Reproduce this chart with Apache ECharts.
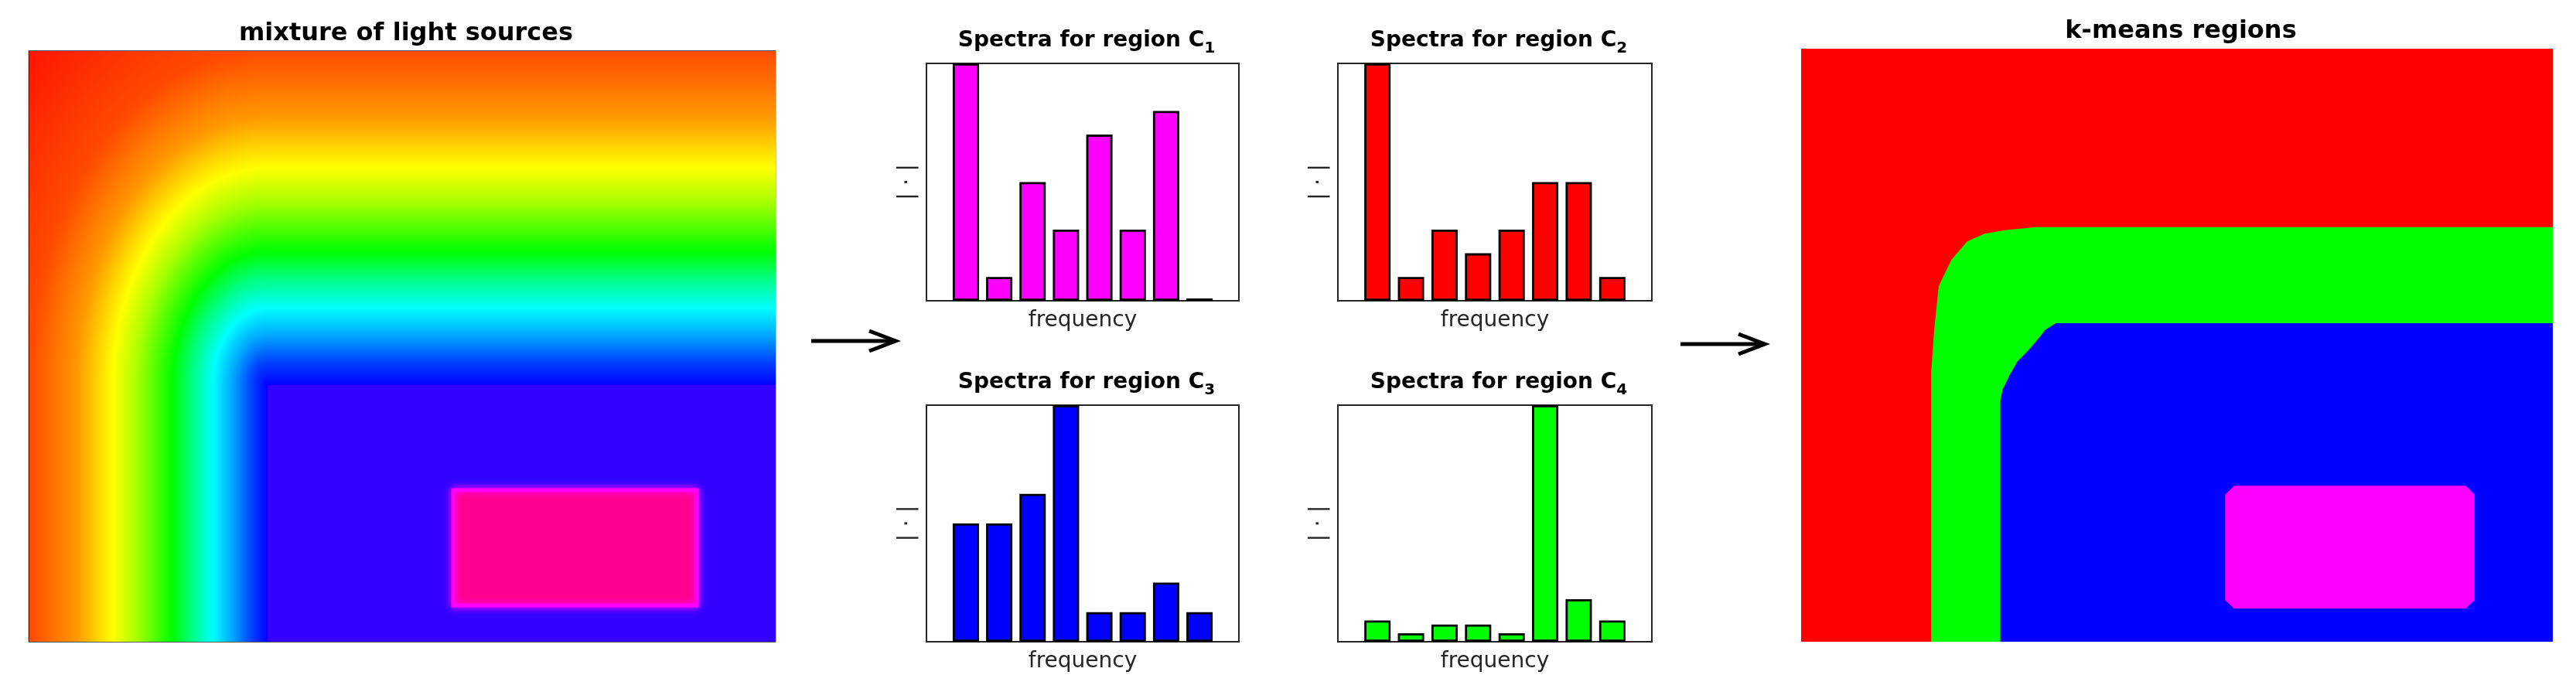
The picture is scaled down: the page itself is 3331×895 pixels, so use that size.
<!DOCTYPE html>
<html>
<head>
<meta charset="utf-8">
<title>k-means regions</title>
<script src="https://cdn.jsdelivr.net/npm/echarts@6/dist/echarts.min.js"></script>
<style>
  html, body { margin: 0; padding: 0; background: #fff; }
  #chart { width: 3331px; height: 895px; }
</style>
</head>
<body>
<div id="chart"></div>
<script>
// 频谱:8 个频段,各区域按最大值归一化
var bins = [0, 1, 2, 3, 4, 5, 6, 7];
var spectraC1 = [1.0, 0.1, 0.5, 0.3, 0.7, 0.3, 0.8, 0.01];
var spectraC2 = [1.0, 0.1, 0.3, 0.2, 0.3, 0.5, 0.5, 0.1];
var spectraC3 = [0.5, 0.5, 0.625, 1.0, 0.125, 0.125, 0.25, 0.125];
var spectraC4 = [0.09, 0.036, 0.073, 0.073, 0.036, 1.0, 0.18, 0.09];
var regionIds = ["1", "2", "3", "4"];
var regionColors = ["#ff00ff", "#ff0000", "#0000ff", "#00ff00"];

// 光源混合图(坐标为图像宽/高的百分比):内角位置 + 距离→颜色色带
var innerCorner = [32.0, 56.6];
var bandDist = [0, 0.07, 0.15, 0.23, 0.32, 0.40, 0.55, 0.65, 0.80, 1.0, 1.414];
var bandColors = ["#0000ff", "#0044ff", "#00aaff", "#00ffff", "#00ff80", "#00ff00",
  "#aaff00", "#ffff00", "#ff9900", "#ff4a00", "#ff1500"];
var innerColor = "#3300ff";
var lightBox = [56.8, 74.3, 89.5, 93.8];

// k-means 区域轮廓(百分比坐标)
var kmColors = ["#ff0000", "#00ff00", "#0000ff", "#ff00ff"];
var kmRed = [[0, 0], [100, 0], [100, 100], [0, 100]];
var kmGreen = [[100, 30.1], [31.2, 30.1], [27.1, 30.6], [24.4, 31.2], [22.1, 32.5], [21.0, 34.1],
  [20.0, 35.6], [19.0, 38.2], [18.3, 40.1], [17.7, 47.5], [17.3, 54.6], [17.3, 100], [100, 100]];
var kmBlue = [[100, 46.3], [33.9, 46.3], [32.5, 47.4], [31.5, 49.0], [30.2, 50.9], [28.8, 52.7],
  [27.8, 54.9], [26.8, 57.5], [26.5, 59.4], [26.5, 100], [100, 100]];
var kmMagenta = [[57.6, 73.7], [88.4, 73.7], [89.6, 75.2], [89.6, 93.0], [88.4, 94.4],
  [57.6, 94.4], [56.4, 93.0], [56.4, 75.2]];

(function () {
  "use strict";
  var FONT = "DejaVu Sans", INK = "#262626";
  var chart = echarts.init(document.getElementById("chart"), null, { renderer: "canvas" });

  var grids = [], xAxes = [], yAxes = [], series = [];

  // 隐藏刻度的图像坐标系(0-100,y 向下)
  function addImageGrid(box, border) {
    var i = grids.length;
    grids.push(Object.assign({ show: border, borderColor: INK, borderWidth: 1.5, backgroundColor: "transparent" }, box));
    xAxes.push({ gridIndex: i, type: "value", min: 0, max: 100, show: false });
    yAxes.push({ gridIndex: i, type: "value", min: 0, max: 100, inverse: true, show: false });
    return i;
  }

  // ===== 左图:光源混合 =====
  var linStops = [], radStops = [];
  for (var k = bandDist.length - 1; k >= 0; k--) {
    if (bandDist[k] <= 1) linStops.push({ offset: 1 - bandDist[k], color: bandColors[k] });
  }
  bandDist.forEach(function (d, k) { radStops.push({ offset: d / Math.SQRT2, color: bandColors[k] }); });

  var X0 = innerCorner[0], Y0 = innerCorner[1];
  var lightPatches = [
    { kind: "corner", r: [0, 0, X0, Y0] },
    { kind: "left", r: [0, Y0, X0, 100] },
    { kind: "top", r: [X0, 0, 100, Y0] },
    { kind: "inner", r: [X0, Y0, 100, 100] },
    { kind: "source", r: lightBox }
  ];

  function renderLight(params, api) {
    var p = lightPatches[params.dataIndex];
    var a = api.coord([p.r[0], p.r[1]]), b = api.coord([p.r[2], p.r[3]]);
    a = [Math.round(a[0]), Math.round(a[1])]; b = [Math.round(b[0]), Math.round(b[1])];
    var w = b[0] - a[0], h = b[1] - a[1];
    if (p.kind === "corner") {
      // 椭圆径向渐变:单位矩形 + 缩放
      return { type: "rect", x: b[0], y: b[1], scaleX: w, scaleY: h,
        shape: { x: -1, y: -1, width: 1, height: 1 },
        style: { fill: { type: "radial", x: 1, y: 1, r: Math.SQRT2, colorStops: radStops } } };
    }
    var fill;
    if (p.kind === "left") fill = { type: "linear", x: 0, y: 0, x2: 1, y2: 0, colorStops: linStops };
    else if (p.kind === "top") fill = { type: "linear", x: 0, y: 0, x2: 0, y2: 1, colorStops: linStops };
    else if (p.kind === "inner") fill = innerColor;
    else {
      return { type: "rect", shape: { x: a[0], y: a[1], width: w, height: h },
        style: { fill: "#ff0090", stroke: "#ff00ff", lineWidth: 5, shadowBlur: 10, shadowColor: "#ff00ff" } };
    }
    return { type: "rect", shape: { x: a[0], y: a[1], width: w, height: h }, style: { fill: fill } };
  }

  var gLight = addImageGrid({ left: 37.5, top: 66, width: 965, height: 764 }, true);
  series.push({ type: "custom", xAxisIndex: gLight, yAxisIndex: gLight, silent: true,
    data: lightPatches.map(function (p, i) { return [i, 0]; }), renderItem: renderLight });

  // ===== 中间:四个区域的频谱柱状图 =====
  var spectra = [spectraC1, spectraC2, spectraC3, spectraC4];
  var boxes = [
    { left: 1198, top: 82, width: 404, height: 307 },
    { left: 1730, top: 82, width: 406, height: 307 },
    { left: 1198, top: 524, width: 404, height: 306 },
    { left: 1730, top: 524, width: 406, height: 306 }
  ];
  var titles = [];
  spectra.forEach(function (vals, s) {
    var i = grids.length, box = boxes[s];
    grids.push(Object.assign({ show: true, borderColor: INK, borderWidth: 2 }, box));
    xAxes.push({ gridIndex: i, type: "value", min: -1.18, max: 8.18,
      name: "frequency", nameLocation: "middle", nameGap: 12,
      nameTextStyle: { fontSize: 28, color: INK, fontFamily: FONT },
      axisLine: { show: false }, axisTick: { show: false }, axisLabel: { show: false }, splitLine: { show: false } });
    yAxes.push({ gridIndex: i, type: "value", min: 0, max: 1,
      name: "| · |", nameLocation: "middle", nameGap: 10, nameRotate: 90,
      nameTextStyle: { fontSize: 29, color: INK, fontFamily: FONT },
      axisLine: { show: false }, axisTick: { show: false }, axisLabel: { show: false }, splitLine: { show: false } });
    series.push({ type: "bar", xAxisIndex: i, yAxisIndex: i, silent: true, barWidth: 34,
      data: bins.map(function (b, j) { return [b, vals[j]]; }),
      itemStyle: { color: regionColors[s], borderColor: "#000", borderWidth: 2.8 } });
    titles.push({ text: "Spectra for region C{s|" + regionIds[s] + "}",
      left: box.left + box.width / 2, top: box.top - 54, textAlign: "center",
      textStyle: { fontSize: 28, fontWeight: "bold", color: "#000", fontFamily: FONT, lineHeight: 40,
        rich: { s: { fontSize: 20, fontWeight: "bold", color: "#000", fontFamily: FONT, lineHeight: 8, verticalAlign: "bottom" } } } });
  });

  // ===== 右图:k-means 区域 =====
  var kmShapes = [kmRed, kmGreen, kmBlue, kmMagenta];
  var gKm = addImageGrid({ left: 2329, top: 63, width: 972, height: 767 }, false);
  series.push({ type: "custom", xAxisIndex: gKm, yAxisIndex: gKm, silent: true,
    data: kmShapes.map(function (p, i) { return [i, 0]; }),
    renderItem: function (params, api) {
      var pts = kmShapes[params.dataIndex].map(function (q) { return api.coord(q); });
      return { type: "polygon", shape: { points: pts }, style: { fill: kmColors[params.dataIndex] } };
    } });

  titles.push({ text: "mixture of light sources", left: 520, top: 23, textAlign: "center",
    textStyle: { fontSize: 32, fontWeight: "bold", color: "#000", fontFamily: FONT, lineHeight: 32 } });
  titles.push({ text: "k-means regions", left: 2815, top: 20, textAlign: "center",
    textStyle: { fontSize: 32, fontWeight: "bold", color: "#000", fontFamily: FONT, lineHeight: 32 } });

  // 箭头
  function arrow(x0, x1, y) {
    return { type: "group", silent: true, children: [
      { type: "line", shape: { x1: x0, y1: y, x2: x1 - 3, y2: y }, style: { stroke: "#000", lineWidth: 5 } },
      { type: "polyline", shape: { points: [[x1 - 34, y - 13], [x1, y], [x1 - 34, y + 13]] },
        style: { stroke: "#000", lineWidth: 5, fill: null } }
    ] };
  }

  chart.setOption({
    animation: false,
    backgroundColor: "#fff",
    textStyle: { fontFamily: FONT },
    title: titles,
    grid: grids, xAxis: xAxes, yAxis: yAxes, series: series,
    graphic: [arrow(1049, 1158, 441), arrow(2173, 2282, 445)]
  });

  window.addEventListener("resize", function () { chart.resize(); });
})();
</script>
</body>
</html>
